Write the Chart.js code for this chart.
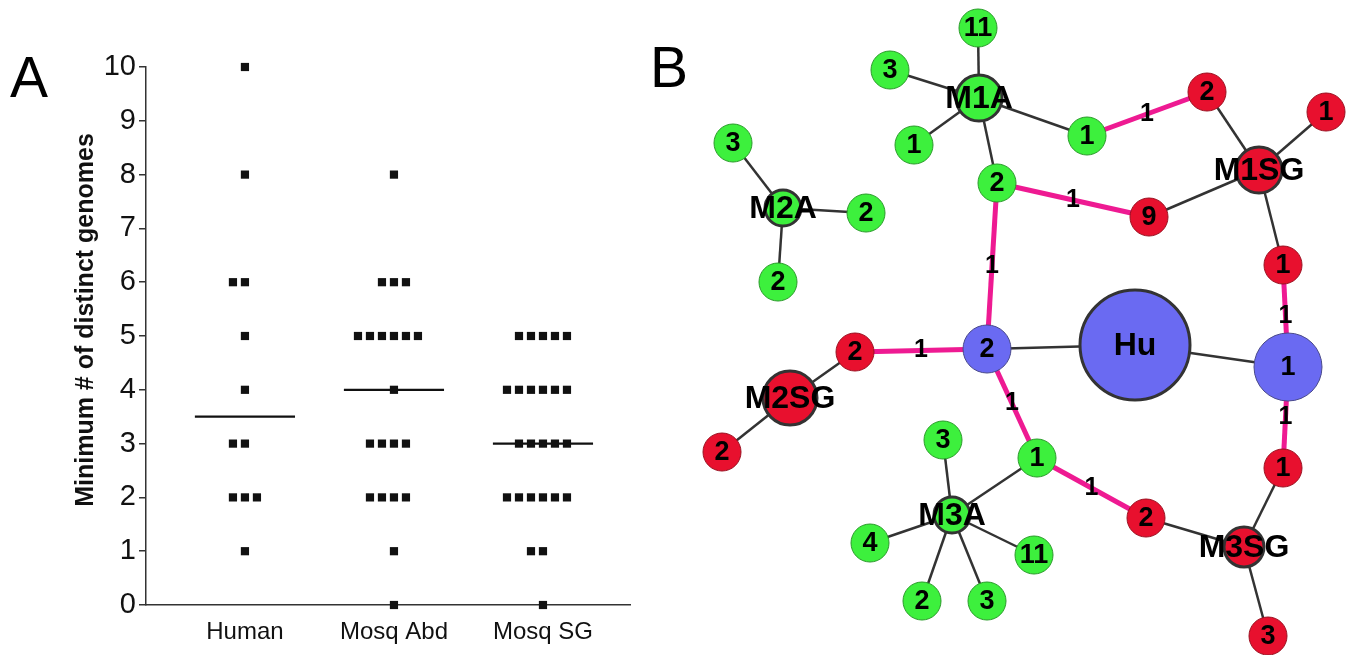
<!DOCTYPE html>
<html>
<head>
<meta charset="utf-8">
<script src="https://cdn.jsdelivr.net/npm/chart.js@4.4.1/dist/chart.umd.min.js"></script>
<style>
  body { margin: 0; background: #fff; }
  #wrap { display: flex; width: 1346px; height: 655px; }
</style>
</head>
<body>
<div id="wrap">
  <canvas id="dots" width="640" height="655"></canvas>
  <canvas id="net" width="706" height="655"></canvas>
</div>
<script>
// ---- panel A data ----
const categories = ['Human', 'Mosq Abd', 'Mosq SG'];
const humanValues = [10, 8, 6, 6, 5, 4, 3, 3, 2, 2, 2, 1];
const abdValues = [8, 6, 6, 6, 5, 5, 5, 5, 5, 5, 4, 3, 3, 3, 3, 2, 2, 2, 2, 1, 0];
const sgValues = [5, 5, 5, 5, 5, 4, 4, 4, 4, 4, 4, 3, 3, 3, 3, 3, 2, 2, 2, 2, 2, 2, 1, 1, 0];
const yTicks = [0, 1, 2, 3, 4, 5, 6, 7, 8, 9, 10];

// ---- panel B data ----
const nodeLabels = ['M1A', '11', '3', '1', '1', '2', 'M1SG', '1', '2', '9', '1', '1', 'Hu', '2', '2', 'M2SG',
  '2', '1', '2', 'M3SG', '1', '3', 'M3A', '3', '4', '11', '2', '3', 'M2A', '3', '2', '2'];
const nodeGroups = ['A', 'A', 'A', 'A', 'A', 'SG', 'SG', 'SG', 'A', 'SG', 'SG', 'Hu', 'Hu', 'Hu', 'SG', 'SG',
  'SG', 'A', 'SG', 'SG', 'SG', 'SG', 'A', 'A', 'A', 'A', 'A', 'A', 'A', 'A', 'A', 'A'];
const hubNodes = [0, 6, 12, 15, 19, 22, 28];
const edges = [[0, 1], [0, 2], [0, 3], [0, 4], [0, 8], [5, 6], [6, 7], [6, 9], [6, 10], [28, 29], [28, 30],
  [28, 31], [13, 12], [12, 11], [15, 14], [15, 16], [22, 23], [22, 17], [22, 24], [22, 25], [22, 26], [22, 27],
  [18, 19], [19, 20], [19, 21]];
const linkEdges = [[4, 5], [8, 9], [8, 13], [14, 13], [13, 17], [17, 18], [10, 11], [11, 20]];
const linkWeights = [1, 1, 1, 1, 1, 1, 1, 1];

// network layout (drawing positions, page pixels) and node sizes
const layoutX = [979, 978, 890, 914, 1087, 1207, 1259, 1326, 997, 1149, 1283, 1288, 1135, 987, 855, 790,
  722, 1037, 1146, 1244, 1283, 1268, 952, 943, 870, 1034, 922, 987, 783, 733, 866, 778];
const layoutY = [98, 28, 70, 145, 136, 92, 170, 112, 183, 217, 265, 367, 345, 349, 352, 398,
  452, 458, 518, 547, 468, 636, 515, 440, 543, 555, 601, 601, 208, 143, 213, 282];
const nodeRadius = [23, 19, 19, 19, 19, 19, 23, 19, 19, 19, 19, 34, 55, 24, 19, 27,
  19, 19, 19, 20, 19, 19, 18, 19, 19, 19, 19, 19, 18, 19, 19, 19];

const FONT = '"Liberation Sans", Arial, sans-serif';
const fill = { A: '#3df03d', SG: '#e8102e', Hu: '#6a6af2' };
const edgeLine = { A: '#2a9a2a', SG: '#9a1020', Hu: '#4a4a8a' };

function rowOffsets(values) {
  const seen = {}, counts = {};
  values.forEach(v => counts[v] = (counts[v] || 0) + 1);
  return values.map(v => {
    const k = seen[v] = (seen[v] || 0) + 1;
    return (k - 1 - Math.floor(counts[v] / 2)) * 0.0805;
  });
}
function median(values) {
  const s = [...values].sort((a, b) => a - b);
  const m = Math.floor(s.length / 2);
  return s.length % 2 ? s[m] : (s[m - 1] + s[m]) / 2;
}

const groups = [humanValues, abdValues, sgValues];
const dotSets = groups.map((vals, i) => {
  const off = rowOffsets(vals);
  return {
    type: 'scatter',
    data: vals.map((v, j) => ({ x: i + 1 + off[j], y: v })),
    pointStyle: 'rect', pointRadius: 5.8, backgroundColor: '#111', borderWidth: 0,
    clip: false, order: 0
  };
});
const medianSets = groups.map((vals, i) => ({
  type: 'line',
  data: [{ x: i + 1 - 0.336, y: median(vals) }, { x: i + 1 + 0.336, y: median(vals) }],
  borderColor: '#111', borderWidth: 2.2, pointRadius: 0, clip: false, order: 1
}));

const panelA = {
  id: 'panelA',
  afterDraw(chart) {
    const ctx = chart.ctx;
    ctx.save();
    ctx.fillStyle = '#000';
    ctx.font = '57px ' + FONT;
    ctx.textBaseline = 'alphabetic';
    ctx.fillText('A', 10, 97);
    ctx.translate(86, 320);
    ctx.rotate(-Math.PI / 2);
    ctx.font = 'bold 25px ' + FONT;
    ctx.textAlign = 'center';
    ctx.textBaseline = 'middle';
    ctx.fillStyle = '#111';
    ctx.fillText('Minimum # of distinct genomes', 0, 0);
    ctx.restore();
  }
};

new Chart(document.getElementById('dots'), {
  type: 'scatter',
  data: { datasets: [...dotSets, ...medianSets] },
  options: {
    responsive: false, animation: false, events: [],
    layout: { autoPadding: false, padding: { top: 67, right: 10, left: 0, bottom: 0 } },
    plugins: { legend: { display: false }, tooltip: { enabled: false } },
    scales: {
      x: {
        type: 'linear', min: 0.336, max: 3.584,
        afterBuildTicks: s => { s.ticks = categories.map((c, i) => ({ value: i + 1 })); },
        afterFit: s => { s.height = 50; },
        ticks: {
          autoSkip: false, maxRotation: 0, padding: 5, color: '#111',
          font: { family: FONT, size: 24 },
          callback: v => categories[v - 1] || ''
        },
        grid: { display: false },
        border: { display: true, color: '#333', width: 1.5 }
      },
      y: {
        min: 0, max: 10,
        afterBuildTicks: s => { s.ticks = yTicks.map(v => ({ value: v })); },
        afterFit: s => { s.width = 146; },
        ticks: { padding: 3, color: '#111', font: { family: FONT, size: 29 } },
        grid: { drawOnChartArea: false, drawTicks: true, tickLength: 7, color: '#333', lineWidth: 1.5 },
        border: { display: true, color: '#333', width: 1.5 }
      }
    }
  },
  plugins: [panelA]
});

// ---- panel B: network ----
const nodePoints = nodeLabels.map((l, i) => ({ x: layoutX[i], y: layoutY[i] }));
const edgeSets = edges.map(([a, b]) => ({
  type: 'line', data: [nodePoints[a], nodePoints[b]],
  borderColor: '#333', borderWidth: 2.5, pointRadius: 0, clip: false, order: 2
}));
const linkSets = linkEdges.map(([a, b]) => ({
  type: 'line', data: [nodePoints[a], nodePoints[b]],
  borderColor: '#ee1a92', borderWidth: 5, pointRadius: 0, clip: false, order: 1
}));
const nodeSet = {
  type: 'scatter', data: nodePoints, clip: false, order: 0,
  pointStyle: 'circle',
  pointRadius: c => nodeRadius[c.dataIndex],
  backgroundColor: c => fill[nodeGroups[c.dataIndex]],
  borderColor: c => hubNodes.includes(c.dataIndex) ? '#333' : edgeLine[nodeGroups[c.dataIndex]],
  borderWidth: c => hubNodes.includes(c.dataIndex) ? 3 : 1
};

const netLabels = {
  id: 'netLabels',
  afterDatasetsDraw(chart) {
    const { ctx, scales: { x, y } } = chart;
    ctx.save();
    ctx.textAlign = 'center';
    ctx.textBaseline = 'middle';
    ctx.fillStyle = '#000';
    linkEdges.forEach(([a, b], k) => {
      const px = (x.getPixelForValue(layoutX[a]) + x.getPixelForValue(layoutX[b])) / 2;
      const py = (y.getPixelForValue(layoutY[a]) + y.getPixelForValue(layoutY[b])) / 2;
      ctx.font = 'bold 25px ' + FONT;
      ctx.fillText(String(linkWeights[k]), px, py);
    });
    nodeLabels.forEach((l, i) => {
      const hub = hubNodes.includes(i);
      ctx.font = (hub ? 'bold 32px ' : 'bold 27px ') + FONT;
      ctx.fillText(l, x.getPixelForValue(layoutX[i]), y.getPixelForValue(layoutY[i]) + 1);
    });
    ctx.font = '57px ' + FONT;
    ctx.textAlign = 'left';
    ctx.textBaseline = 'alphabetic';
    ctx.fillText('B', x.getPixelForValue(650), y.getPixelForValue(87));
    ctx.restore();
  }
};

new Chart(document.getElementById('net'), {
  type: 'scatter',
  data: { datasets: [nodeSet, ...linkSets, ...edgeSets] },
  options: {
    responsive: false, animation: false, events: [],
    layout: { autoPadding: false, padding: 0 },
    plugins: { legend: { display: false }, tooltip: { enabled: false } },
    scales: {
      x: { type: 'linear', display: false, min: 640, max: 1346 },
      y: { type: 'linear', display: false, min: 0, max: 655, reverse: true }
    }
  },
  plugins: [netLabels]
});
</script>
</body>
</html>
